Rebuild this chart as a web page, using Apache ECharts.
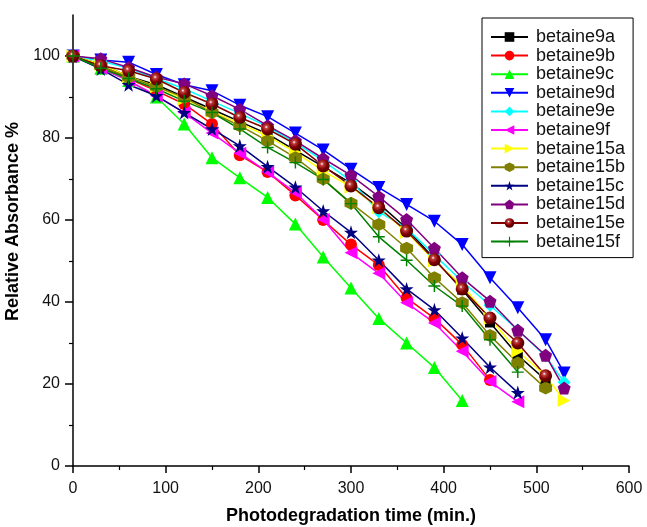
<!DOCTYPE html>
<html>
<head>
<meta charset="utf-8">
<script src="https://cdn.jsdelivr.net/npm/echarts@6/dist/echarts.min.js"></script>
<style>
  html, body { margin: 0; padding: 0; background: #fff; }
  #chart { width: 647px; height: 527px; }
</style>
</head>
<body>
<div id="chart"></div>
<script>
// time points (min.), last one is 530
const time = [0, 30, 60, 90, 120, 150, 180, 210, 240, 270, 300, 330, 360, 390, 420, 450, 480, 510, 530];

const betaine9a  = [100, 98, 95, 93, 90, 87, 84, 81, 77, 73, 69, 64, 58, 50.5, 43, 35, 27, 21];
const betaine9b  = [100, 97.5, 94.5, 91.5, 88.3, 83.4, 75.8, 71.7, 66, 60, 54, 49, 41, 36, 29.6, 21];
const betaine9c  = [100, 97, 94, 90, 83.4, 75.2, 70.3, 65.5, 59, 51, 43.4, 36, 30, 24, 16];
const betaine9d  = [100, 99, 98.5, 95.5, 93, 91.5, 88, 85.2, 81.2, 77.1, 72.4, 67.9, 63.8, 59.7, 54, 45.9, 38.6, 30.8, 22.7];
const betaine9e  = [100, 98.8, 97, 94.5, 92, 89, 86, 82.8, 78.8, 74.5, 69.5, 62, 58, 51.5, 45, 39.2, 33.2, 26.8, 20.4];
const betaine9f  = [100, 97, 94, 90.3, 86.2, 81.2, 76.3, 71.7, 66.7, 60.1, 52, 47, 39.8, 34.9, 28, 20.6, 15.7];
const betaine15a = [100, 98, 95, 92.5, 89.5, 86.5, 83.5, 80.5, 76.5, 72, 68, 63, 57, 50, 44, 36, 28, 22, 16];
const betaine15b = [100, 97.5, 94.8, 92.5, 89.9, 86.2, 83, 79.3, 75.2, 70, 64.1, 58.9, 53.1, 45.9, 39.8, 31.8, 25.1, 19];
const betaine15c = [100, 96.8, 93, 90.3, 86.2, 82.2, 78.1, 73, 68, 62.2, 57, 50.2, 43.2, 38.1, 31.2, 24.1, 17.9];
const betaine15d = [100, 99.3, 97.2, 94.8, 93.2, 90.3, 87, 83, 79.3, 75, 70.9, 65.7, 60.1, 53.1, 45.9, 40.2, 33.1, 27, 19];
const betaine15e = [100, 97.6, 96.4, 94.4, 91.1, 88.3, 85, 82.2, 78.5, 73.2, 68.3, 63, 57.3, 50.3, 43.2, 36.1, 30, 22];
const betaine15f = [100, 97, 94.5, 92, 89, 86.2, 82.2, 77.7, 74, 69.9, 64, 55.9, 50.2, 43.9, 39, 30.8, 22.9];

const yTickValues = [0, 20, 40, 60, 80, 100];
const yMinorValues = [10, 30, 50, 70, 90];

const hexagon = 'path://M50,0 L93.3,25 L93.3,75 L50,100 L6.7,75 L6.7,25 Z';
const star = 'path://M50,0 L61.8,35.5 L99,35.5 L69,57.5 L80.4,93 L50,71 L19.6,93 L31,57.5 L1,35.5 L38.2,35.5 Z';
const pentagon = 'path://M50,0 L97.6,34.5 L79.4,90.5 L20.6,90.5 L2.4,34.5 Z';
const plus = 'path://M44,0 H56 V44 H100 V56 H56 V100 H44 V56 H0 V44 H44 Z';

const sphere = {
  type: 'radial', x: 0.4, y: 0.35, r: 0.65,
  colorStops: [
    { offset: 0, color: '#ffffff' },
    { offset: 0.2, color: '#c04040' },
    { offset: 0.6, color: '#800000' },
    { offset: 1, color: '#500000' }
  ]
};

function mk(name, values, color, symbol, opts) {
  opts = opts || {};
  return {
    name: name,
    type: 'line',
    data: values.map((v, i) => [time[i], v]),
    symbol: symbol,
    symbolSize: opts.size || 12,
    symbolRotate: opts.rotate || 0,
    lineStyle: { color: color, width: 1.5 },
    itemStyle: { color: opts.fill || color },
    emphasis: { disabled: true }
  };
}

const chart = echarts.init(document.getElementById('chart'));

const option = {
  animation: false,
  textStyle: { fontFamily: 'Liberation Sans' },
  grid: { left: 73, right: 18, top: 15, bottom: 61, outerBoundsMode: 'none', containLabel: false },
  legend: {
    orient: 'vertical',
    left: 482,
    top: 18,
    padding: [10, 8, 7, 8],
    borderColor: '#000',
    borderWidth: 1,
    itemWidth: 37,
    itemHeight: 12,
    itemGap: 0.6,
    textStyle: { fontSize: 18, lineHeight: 16, color: '#111', fontFamily: 'Liberation Sans', padding: [0, 0, 0, 3] },
    data: ['betaine9a', 'betaine9b', 'betaine9c', 'betaine9d', 'betaine9e', 'betaine9f',
           'betaine15a', 'betaine15b', 'betaine15c', 'betaine15d', 'betaine15e', 'betaine15f']
  },
  xAxis: {
    type: 'value',
    min: 0,
    max: 600,
    interval: 100,
    name: 'Photodegradation time (min.)',
    nameLocation: 'middle',
    nameGap: 41,
    nameTextStyle: { fontSize: 18, fontWeight: 'bold', color: '#000' },
    axisLine: { lineStyle: { color: '#000', width: 1.5 } },
    axisTick: { length: 7, lineStyle: { color: '#000', width: 1.5 } },
    minorTick: { show: true, splitNumber: 2, length: 4, lineStyle: { color: '#000', width: 1.2 } },
    axisLabel: { fontSize: 16, color: '#111', margin: 15 },
    splitLine: { show: false }
  },
  yAxis: [{
    type: 'value',
    min: 0,
    max: 110,
    interval: 10,
    name: 'Relative Absorbance %',
    nameLocation: 'middle',
    nameGap: 38,
    nameTextStyle: { fontSize: 18, fontWeight: 'bold', color: '#000', padding: [0, 0, 0, 38] },
    axisLine: { show: true, lineStyle: { color: '#000', width: 1.5 } },
    axisTick: { show: true, length: 8, customValues: yTickValues, lineStyle: { color: '#000', width: 1.5 } },
    axisLabel: { fontSize: 16, color: '#111', margin: 13, customValues: yTickValues },
    splitLine: { show: false }
  }, {
    type: 'value',
    min: 0,
    max: 110,
    interval: 10,
    position: 'left',
    axisLine: { show: false },
    axisTick: { show: true, length: 4, customValues: yMinorValues, lineStyle: { color: '#000', width: 1.2 } },
    axisLabel: { show: false },
    splitLine: { show: false }
  }],
  series: [
    mk('betaine9a', betaine9a, '#000000', 'rect', { size: 10 }),
    mk('betaine9b', betaine9b, '#ff0000', 'circle'),
    mk('betaine9c', betaine9c, '#00ff00', 'triangle', { size: 13 }),
    mk('betaine9d', betaine9d, '#0000ff', 'triangle', { size: 13, rotate: 180 }),
    mk('betaine9e', betaine9e, '#00ffff', 'diamond', { size: 13 }),
    mk('betaine9f', betaine9f, '#ff00ff', 'triangle', { size: 13, rotate: 90 }),
    mk('betaine15a', betaine15a, '#ffff00', 'triangle', { size: 13, rotate: -90 }),
    mk('betaine15b', betaine15b, '#808000', hexagon, { size: 13 }),
    mk('betaine15c', betaine15c, '#000080', star, { size: 14 }),
    mk('betaine15d', betaine15d, '#800080', pentagon, { size: 13 }),
    mk('betaine15e', betaine15e, '#800000', 'circle', { size: 13, fill: sphere }),
    mk('betaine15f', betaine15f, '#008000', plus, { size: 12 })
  ]
};

chart.setOption(option);
</script>
</body>
</html>
